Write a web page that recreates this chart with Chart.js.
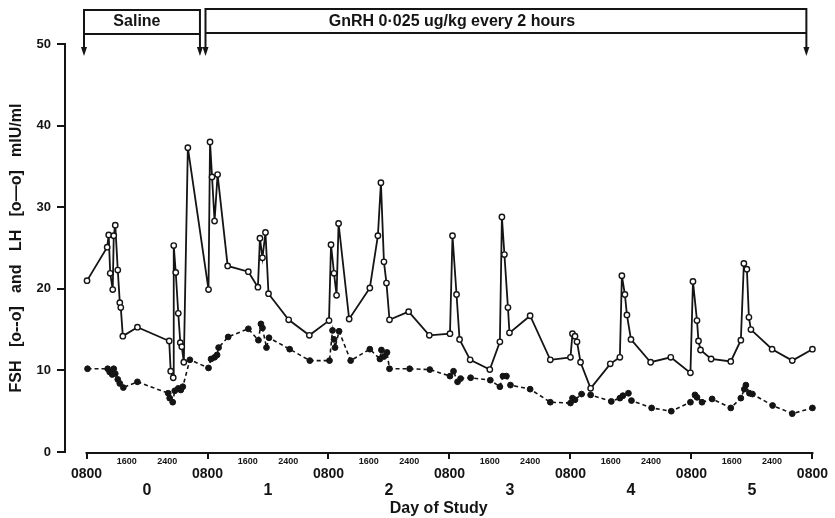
<!DOCTYPE html>
<html><head><meta charset="utf-8">
<script src="https://cdn.jsdelivr.net/npm/chart.js@4.4.0/dist/chart.umd.min.js"></script>
<style>html,body{margin:0;padding:0;background:#fff;}#wrap{width:835px;height:518px;}</style>
</head><body><div id="wrap"><canvas id="c" width="835" height="518"></canvas></div>
<script>
// hours after 0800 on day 0
const lhHours = [0.1,4.1,4.4,4.7,5.2,5.4,5.7,6.2,6.6,6.8,7.2,10.1,16.4,16.7,17.2,17.3,17.7,18.2,18.6,18.9,19.3,20.1,
  24.2,24.5,24.9,25.4,26.0,28.0,32.1,34.0,34.4,34.9,35.5,36.1,40.1,44.2,
  48.1,48.5,49.1,49.6,50.0,52.1,56.2,57.8,58.4,59.0,59.5,60.1,63.9,68.0,
  72.1,72.6,73.4,74.0,76.1,80.0,82.0,82.4,82.9,83.6,83.9,88.0,92.0,
  96.0,96.4,96.9,97.3,98.0,100.0,103.9,105.8,106.2,106.8,107.2,108.0,111.9,115.9,
  119.8,120.3,121.1,121.4,121.8,123.9,127.8,129.8,130.4,131.0,131.4,131.8,136.0,140.0,144.0];
const lhValues = [21.0,25.1,26.6,21.9,19.9,26.5,27.8,22.3,18.3,17.7,14.2,15.3,13.6,9.9,9.1,25.3,22.0,17.0,13.4,12.9,11.0,37.3,
  19.9,38.0,33.7,28.3,34.0,22.8,22.1,20.2,26.2,23.8,26.9,19.4,16.2,14.3,
  16.1,25.4,21.9,19.2,28.0,16.3,20.1,26.5,33.0,23.3,20.7,16.2,17.2,14.3,
  14.5,26.5,19.3,13.8,11.3,10.1,13.5,28.8,24.2,17.7,14.6,16.7,11.3,
  11.6,14.5,14.2,13.5,11.0,7.8,10.8,11.6,21.6,19.3,16.8,13.8,11.0,11.6,
  9.7,20.9,16.1,13.6,12.5,11.4,11.1,13.7,23.1,22.4,16.5,15.0,12.6,11.2,12.6];
const fshHours = [0.2,4.2,4.6,5.1,5.4,5.7,6.2,6.6,7.3,10.1,16.2,16.5,17.1,17.5,18.2,18.7,19.1,20.5,
  24.2,24.7,25.4,25.9,26.2,28.1,32.1,34.1,34.6,34.9,35.7,36.2,40.3,44.3,
  48.2,48.8,49.1,49.3,50.1,52.4,56.2,58.2,58.5,59.0,59.6,60.1,64.1,68.1,
  72.1,72.8,73.6,74.2,76.2,80.1,82.0,82.6,83.3,84.1,88.0,92.0,
  96.0,96.4,96.9,98.2,100.0,104.1,105.8,106.4,107.5,108.1,112.1,116.0,
  119.8,120.7,121.1,122.1,124.1,127.8,129.8,130.5,130.8,131.5,132.1,136.1,140.0,144.0];
const fshValues = [10.2,10.2,9.8,9.5,10.2,9.6,8.9,8.4,7.9,8.6,7.2,6.6,6.1,7.5,7.8,7.6,8.0,11.3,
  10.3,11.4,11.6,11.9,12.8,14.1,15.1,13.7,15.7,15.2,12.8,14.0,12.6,11.2,
  11.2,14.9,13.8,12.8,14.8,11.2,12.6,11.4,12.5,11.7,12.2,10.2,10.2,10.1,
  9.3,9.9,8.6,9.0,9.1,8.8,8.0,9.3,9.3,8.2,7.7,6.1,
  6.0,6.6,6.4,7.1,7.0,6.2,6.6,6.9,7.2,6.3,5.4,5.0,
  6.1,7.0,6.7,6.1,6.5,5.4,6.6,7.7,8.2,7.2,7.1,5.7,4.7,5.4];

const dayLabels = ['0','1','2','3','4','5'];
const clockLabels = ['0800','1600','2400'];
const yTicks = [0,10,20,30,40,50];
const bannerLabels = ['Saline','GnRH 0·025 ug/kg every 2 hours'];
const bannerSpans = [[-0.5,22.5],[23.6,142.8]];
const bannerTextHours = [10.0,72.5];

const FONT = "'Liberation Sans', Arial, Helvetica, sans-serif";
const INK = '#141414';

const decor = {
  id: 'decor',
  afterDraw(chart) {
    const ctx = chart.ctx, xs = chart.scales.x, ca = chart.chartArea;
    ctx.save();
    ctx.strokeStyle = INK; ctx.fillStyle = INK; ctx.lineWidth = 2;
    // x axis line
    ctx.beginPath();
    ctx.moveTo(xs.getPixelForValue(0) - 1, ca.bottom + 1);
    ctx.lineTo(xs.getPixelForValue(144) + 1, ca.bottom + 1);
    ctx.stroke();
    // small clock labels
    ctx.font = 'bold 9px ' + FONT;
    ctx.textAlign = 'center'; ctx.textBaseline = 'middle';
    dayLabels.forEach((d, i) => {
      [1, 2].forEach(k => {
        ctx.fillText(clockLabels[k], xs.getPixelForValue(24 * i + 8 * k), ca.bottom + 10);
      });
    });
    // banner
    const tops = [10, 9], bots = [34, 33];
    bannerSpans.forEach((sp, i) => {
      const a = xs.getPixelForValue(sp[0]), b = xs.getPixelForValue(sp[1]);
      ctx.beginPath();
      ctx.moveTo(a, 49); ctx.lineTo(a, tops[i]); ctx.lineTo(b, tops[i]); ctx.lineTo(b, 49);
      ctx.moveTo(a, bots[i]); ctx.lineTo(b, bots[i]);
      ctx.stroke();
      [a, b].forEach(x => {
        ctx.beginPath();
        ctx.moveTo(x - 3, 47); ctx.lineTo(x + 3, 47); ctx.lineTo(x, 56); ctx.closePath(); ctx.fill();
      });
      ctx.font = 'bold 16px ' + FONT;
      ctx.fillText(bannerLabels[i], xs.getPixelForValue(bannerTextHours[i]), 22);
    });
    ctx.restore();
  }
};

const baseFont = { family: FONT, weight: 'bold' };

new Chart(document.getElementById('c'), {
  type: 'line',
  data: {
    datasets: [
      {
        label: 'LH',
        data: lhHours.map((h, i) => ({ x: h, y: lhValues[i] })),
        borderColor: INK, borderWidth: 1.8, tension: 0,
        pointRadius: 2.7, pointBorderWidth: 1.4, pointBackgroundColor: '#fff', pointBorderColor: INK,
        clip: false
      },
      {
        label: 'FSH',
        data: fshHours.map((h, i) => ({ x: h, y: fshValues[i] })),
        borderColor: INK, borderWidth: 1.6, borderDash: [4, 3], tension: 0,
        pointRadius: 2.9, pointBorderWidth: 1, pointBackgroundColor: INK, pointBorderColor: INK,
        clip: false
      }
    ]
  },
  options: {
    responsive: false, animation: false, devicePixelRatio: 1,
    layout: { padding: { top: 44, right: 17, bottom: 0, left: 0 } },
    plugins: { legend: { display: false }, tooltip: { enabled: false } },
    scales: {
      x: {
        type: 'linear', position: 'bottom', min: -4.27, max: 144,
        afterBuildTicks: s => { s.ticks = [0, 1, 2, 3, 4, 5, 6].map(d => ({ value: 24 * d })); },
        afterFit: s => { s.height = 31; },
        ticks: { autoSkip: false, maxRotation: 0, padding: 7, color: INK,
          font: { ...baseFont, size: 14 }, callback: () => clockLabels[0] },
        grid: { drawOnChartArea: false, drawTicks: true, tickLength: 7, color: INK, lineWidth: 2 },
        border: { display: false }
      },
      xDay: {
        type: 'linear', position: 'bottom', min: -4.27, max: 144,
        afterBuildTicks: s => { s.ticks = dayLabels.map((d, i) => ({ value: 24 * i + 12 })); },
        afterFit: s => { s.height = 35; },
        ticks: { autoSkip: false, maxRotation: 0, padding: 0, color: INK,
          font: { ...baseFont, size: 16, lineHeight: 1 }, callback: (v, i) => dayLabels[i] },
        grid: { display: false, drawTicks: false },
        border: { display: false },
        title: { display: true, text: 'Day of Study', color: INK, padding: 0,
          font: { ...baseFont, size: 16, lineHeight: 1.2 } }
      },
      y: {
        min: 0, max: 50,
        afterBuildTicks: s => { s.ticks = yTicks.map(v => ({ value: v })); },
        afterFit: s => { s.width = 65; },
        ticks: { padding: 6, color: INK, font: { ...baseFont, size: 13 } },
        grid: { drawOnChartArea: false, drawTicks: true, tickLength: 8, color: INK, lineWidth: 2 },
        border: { display: true, color: INK, width: 2 },
        title: { display: true, text: 'FSH   [o--o]   and   LH   [o—o]   mIU/ml', color: INK,
          padding: { top: 7, bottom: 0 }, font: { ...baseFont, size: 16, lineHeight: 1.2 } }
      }
    }
  },
  plugins: [decor]
});
</script></body></html>
